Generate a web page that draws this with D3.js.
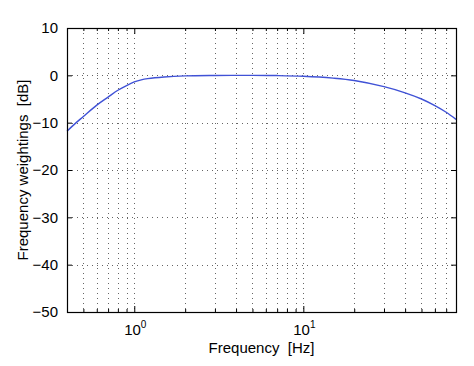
<!DOCTYPE html>
<html><head><meta charset="utf-8">
<script src="https://cdn.jsdelivr.net/npm/d3@7"></script>
<style>
body{margin:0;background:#fff}
svg{display:block}
text{font-family:"Liberation Sans",Arial,Helvetica,sans-serif;fill:#000}
</style>
</head><body>
<svg id="chart" width="474" height="366"></svg>
<script>
// ---- data ----
const freqs   = [0.4, 0.45, 0.5, 0.6, 0.7, 0.8, 0.9, 1.0, 1.1, 1.2, 1.5, 2, 3, 5, 7, 10, 15, 20, 30, 40, 50, 60, 70, 80];
const weights = [-11.8, -10.1, -8.7, -6.3, -4.6, -3.15, -2.15, -1.4, -0.95, -0.7, -0.35, -0.12, -0.03, 0, -0.05, -0.2, -0.6, -1.1, -2.4, -3.7, -5.0, -6.4, -7.8, -9.3];
const xDomain = [0.4, 80];
const yDomain = [-50, 10];
const xMajorTicks = [1, 10];
const xMajorExponents = ["0", "1"];
const xMinorTicks = [0.5, 0.6, 0.7, 0.8, 0.9, 2, 3, 4, 5, 6, 7, 8, 9, 20, 30, 40, 50, 60, 70, 80];
const yTicks = [-50, -40, -30, -20, -10, 0, 10];
const xLabel = "Frequency  [Hz]";
const yLabel = "Frequency weightings  [dB]";

// ---- layout ----
const W = 474, H = 366;
const m = {left: 67, right: 18, top: 28, bottom: 54};
const pw = W - m.left - m.right, ph = H - m.top - m.bottom;

const svg = d3.select("#chart");
const g = svg.append("g").attr("transform", `translate(${m.left},${m.top})`);

const x = d3.scaleLog().domain(xDomain).range([0, pw]);
const y = d3.scaleLinear().domain(yDomain).range([ph, 0]);

// grid lines
const allX = xMajorTicks.concat(xMinorTicks).filter(v => v > xDomain[0] && v < xDomain[1]);
g.append("g").selectAll("line").data(allX).join("line")
  .attr("x1", d => Math.round(x(d)) + 0.5).attr("x2", d => Math.round(x(d)) + 0.5)
  .attr("y1", 0).attr("y2", ph)
  .attr("stroke", "#666").attr("stroke-width", 1).attr("stroke-dasharray", "1,4");
g.append("g").selectAll("line").data(yTicks.filter(v => v > yDomain[0] && v < yDomain[1])).join("line")
  .attr("y1", d => Math.round(y(d)) + 0.5).attr("y2", d => Math.round(y(d)) + 0.5)
  .attr("x1", 0).attr("x2", pw)
  .attr("stroke", "#666").attr("stroke-width", 1).attr("stroke-dasharray", "1,4");

// axes (ticks inside, MATLAB style)
const fmtY = d => d < 0 ? "\u2212" + Math.abs(d) : String(d);
const bottomMajor = d3.axisBottom(x).tickValues(xMajorTicks).tickSizeInner(-6).tickSizeOuter(0).tickFormat("");
const bottomMinor = d3.axisBottom(x).tickValues(xMinorTicks).tickSizeInner(-3).tickSizeOuter(0).tickFormat("");
const topMajor = d3.axisTop(x).tickValues(xMajorTicks).tickSizeInner(-6).tickSizeOuter(0).tickFormat("");
const topMinor = d3.axisTop(x).tickValues(xMinorTicks).tickSizeInner(-3).tickSizeOuter(0).tickFormat("");
const leftAx = d3.axisLeft(y).tickValues(yTicks).tickSizeInner(-5).tickSizeOuter(0).tickPadding(9).tickFormat(fmtY);
const rightAx = d3.axisRight(y).tickValues(yTicks).tickSizeInner(-5).tickSizeOuter(0).tickFormat("");

function style(sel){
  sel.select(".domain").remove();
  sel.selectAll(".tick line").attr("stroke", "#000").attr("stroke-width", 1);
}
g.append("g").attr("transform", `translate(0,${ph})`).call(bottomMajor).call(style);
g.append("g").attr("transform", `translate(0,${ph})`).call(bottomMinor).call(style);
g.append("g").call(topMajor).call(style);
g.append("g").call(topMinor).call(style);
const la = g.append("g").call(leftAx).call(style);
la.selectAll(".tick text").attr("font-size", 15).attr("font-family", '"Liberation Sans",Arial,sans-serif').attr("fill", "#000");
g.append("g").attr("transform", `translate(${pw},0)`).call(rightAx).call(style);

// x tick labels with superscript exponents
const xl = g.append("g");
xMajorTicks.forEach((v, i) => {
  const t = xl.append("text").attr("x", x(v) + 1).attr("y", ph + 23)
    .attr("text-anchor", "middle").attr("font-size", 15);
  t.append("tspan").text("10");
  t.append("tspan").attr("font-size", 10).attr("dy", -7).text(xMajorExponents[i]);
});

// curve
const line = d3.line().x((d, i) => x(freqs[i])).y(d => y(d)).curve(d3.curveCatmullRom.alpha(0.5));
g.append("path").datum(weights).attr("d", line)
  .attr("fill", "none").attr("stroke", "#4052d6").attr("stroke-width", 1.4);

// frame
g.append("rect").attr("x", 0.5).attr("y", 0.5).attr("width", pw).attr("height", ph)
  .attr("fill", "none").attr("stroke", "#000").attr("stroke-width", 1.2);

// axis labels
svg.append("text").attr("x", m.left + pw / 2).attr("y", 353)
  .attr("text-anchor", "middle").attr("font-size", 15)
  .style("white-space", "pre").text(xLabel);
svg.append("text").attr("transform", `translate(28,${m.top + ph / 2}) rotate(-90)`)
  .attr("text-anchor", "middle").attr("font-size", 15)
  .style("white-space", "pre").text(yLabel);
</script>
</body></html>
